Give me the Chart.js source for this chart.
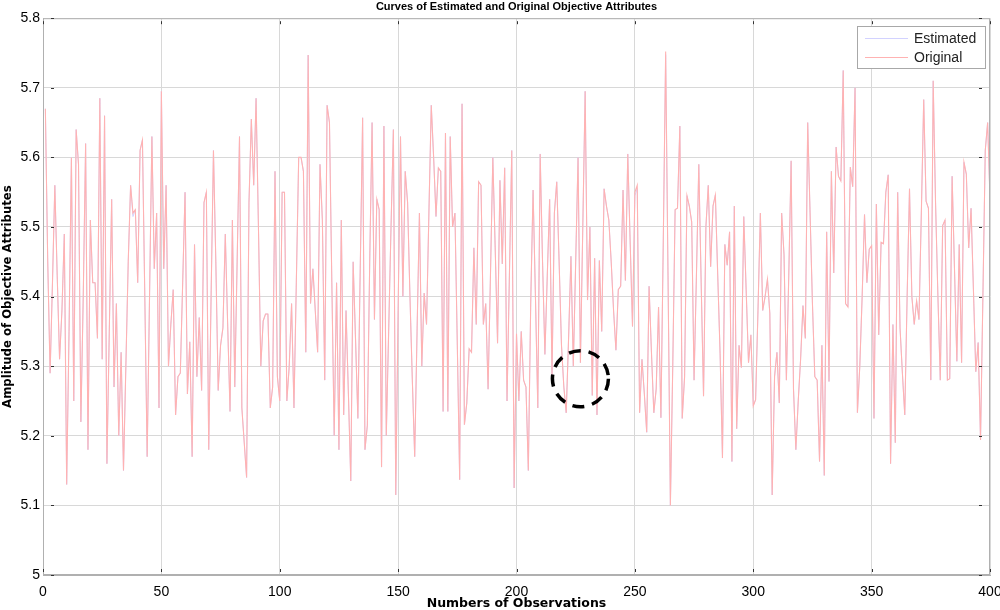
<!DOCTYPE html>
<html>
<head>
<meta charset="utf-8">
<script src="https://cdn.jsdelivr.net/npm/chart.js@4/dist/chart.umd.min.js"></script>
<style>
  html, body { margin: 0; padding: 0; background: #fff; }
  #wrap { width: 1000px; height: 610px; }
</style>
</head>
<body>
<div id="wrap"><canvas id="chart" width="1000" height="610"></canvas></div>
<script>
// ── data (observation 1..400) ─────────────────────────────
const SERIES_LABELS = ["Estimated", "Original"];

const original = [
  5.67, 5.45, 5.29, 5.42, 5.56, 5.43, 5.31, 5.38, 5.49, 5.13,
  5.35, 5.60, 5.25, 5.64, 5.59, 5.22, 5.40, 5.62, 5.18, 5.51,
  5.42, 5.42, 5.34, 5.685, 5.31, 5.66, 5.16, 5.35, 5.54, 5.27,
  5.39, 5.20, 5.32, 5.15, 5.30, 5.45, 5.56, 5.52, 5.525, 5.42,
  5.61, 5.625, 5.40, 5.17, 5.40, 5.63, 5.44, 5.52, 5.24, 5.695,
  5.44, 5.56, 5.30, 5.36, 5.41, 5.23, 5.285, 5.29, 5.42, 5.55,
  5.26, 5.335, 5.17, 5.475, 5.285, 5.37, 5.265, 5.535, 5.55, 5.18,
  5.40, 5.61, 5.45, 5.265, 5.33, 5.355, 5.49, 5.36, 5.235, 5.51,
  5.27, 5.45, 5.63, 5.24, 5.19, 5.14, 5.535, 5.655, 5.56, 5.685,
  5.50, 5.30, 5.365, 5.375, 5.375, 5.24, 5.27, 5.58, 5.285, 5.25,
  5.55, 5.55, 5.25, 5.30, 5.39, 5.24, 5.42, 5.60, 5.60, 5.58,
  5.32, 5.747, 5.39, 5.44, 5.38, 5.32, 5.59, 5.51, 5.28, 5.675,
  5.65, 5.42, 5.20, 5.42, 5.18, 5.51, 5.23, 5.38, 5.26, 5.135,
  5.45, 5.34, 5.225, 5.44, 5.657, 5.18, 5.215, 5.45, 5.65, 5.367,
  5.54, 5.525, 5.155, 5.645, 5.20, 5.35, 5.50, 5.64, 5.115, 5.38,
  5.63, 5.40, 5.58, 5.535, 5.40, 5.28, 5.17, 5.35, 5.52, 5.30,
  5.405, 5.36, 5.52, 5.675, 5.60, 5.515, 5.585, 5.58, 5.235, 5.635,
  5.235, 5.63, 5.50, 5.52, 5.33, 5.137, 5.677, 5.216, 5.247, 5.325,
  5.32, 5.47, 5.36, 5.565, 5.56, 5.36, 5.39, 5.267, 5.43, 5.60,
  5.47, 5.333, 5.567, 5.447, 5.585, 5.25, 5.43, 5.61, 5.125, 5.347,
  5.25, 5.35, 5.28, 5.27, 5.15, 5.39, 5.553, 5.40, 5.24, 5.605,
  5.45, 5.317, 5.43, 5.54, 5.285, 5.52, 5.565, 5.45, 5.33, 5.27,
  5.233, 5.34, 5.458, 5.30, 5.45, 5.60, 5.305, 5.50, 5.695, 5.395,
  5.50, 5.258, 5.455, 5.23, 5.452, 5.35, 5.555, 5.53, 5.51, 5.45,
  5.38, 5.323, 5.41, 5.415, 5.553, 5.423, 5.605, 5.48, 5.357, 5.55,
  5.56, 5.233, 5.31, 5.26, 5.205, 5.415, 5.32, 5.233, 5.267, 5.385,
  5.226, 5.48, 5.752, 5.43, 5.10, 5.30, 5.525, 5.527, 5.645, 5.225,
  5.285, 5.545, 5.53, 5.507, 5.28, 5.43, 5.59, 5.42, 5.257, 5.50,
  5.56, 5.443, 5.53, 5.546, 5.43, 5.318, 5.168, 5.475, 5.445, 5.493,
  5.163, 5.53, 5.21, 5.33, 5.298, 5.515, 5.41, 5.305, 5.345, 5.243,
  5.252, 5.38, 5.52, 5.38, 5.40, 5.425, 5.376, 5.115, 5.285, 5.32,
  5.247, 5.52, 5.46, 5.28, 5.43, 5.595, 5.267, 5.18, 5.25, 5.31,
  5.387, 5.34, 5.65, 5.52, 5.39, 5.285, 5.28, 5.163, 5.33, 5.143,
  5.493, 5.278, 5.58, 5.434, 5.615, 5.573, 5.566, 5.725, 5.39, 5.385,
  5.586, 5.558, 5.70, 5.233, 5.30, 5.40, 5.518, 5.42, 5.468, 5.473,
  5.225, 5.533, 5.345, 5.478, 5.476, 5.55, 5.575, 5.16, 5.36, 5.19,
  5.55, 5.355, 5.29, 5.23, 5.40, 5.555, 5.40, 5.36, 5.394, 5.367,
  5.52, 5.683, 5.537, 5.527, 5.28, 5.71, 5.535, 5.40, 5.28, 5.502,
  5.51, 5.28, 5.282, 5.573, 5.44, 5.307, 5.475, 5.305, 5.593, 5.576,
  5.47, 5.527, 5.41, 5.292, 5.334, 5.194, 5.40, 5.61, 5.65, 5.54,
];

const estimated = [
  5.67, 5.45, 5.29, 5.42, 5.56, 5.43, 5.31, 5.38, 5.49, 5.13,
  5.35, 5.60, 5.25, 5.64, 5.59, 5.22, 5.40, 5.62, 5.18, 5.51,
  5.42, 5.42, 5.34, 5.685, 5.31, 5.66, 5.16, 5.35, 5.54, 5.27,
  5.39, 5.20, 5.32, 5.15, 5.30, 5.45, 5.56, 5.515, 5.525, 5.42,
  5.61, 5.625, 5.40, 5.17, 5.40, 5.63, 5.44, 5.52, 5.24, 5.695,
  5.44, 5.56, 5.30, 5.36, 5.41, 5.23, 5.285, 5.29, 5.42, 5.55,
  5.26, 5.335, 5.17, 5.475, 5.285, 5.37, 5.265, 5.535, 5.55, 5.18,
  5.40, 5.61, 5.45, 5.265, 5.33, 5.355, 5.49, 5.36, 5.235, 5.51,
  5.27, 5.45, 5.63, 5.24, 5.19, 5.14, 5.535, 5.655, 5.56, 5.685,
  5.50, 5.30, 5.365, 5.375, 5.375, 5.24, 5.27, 5.58, 5.285, 5.25,
  5.55, 5.55, 5.25, 5.30, 5.39, 5.24, 5.42, 5.60, 5.60, 5.58,
  5.32, 5.747, 5.39, 5.44, 5.38, 5.32, 5.59, 5.51, 5.28, 5.675,
  5.65, 5.42, 5.20, 5.42, 5.18, 5.51, 5.23, 5.38, 5.26, 5.135,
  5.45, 5.34, 5.225, 5.44, 5.657, 5.18, 5.215, 5.45, 5.65, 5.367,
  5.54, 5.525, 5.155, 5.645, 5.20, 5.35, 5.50, 5.64, 5.115, 5.38,
  5.63, 5.40, 5.58, 5.535, 5.40, 5.28, 5.17, 5.35, 5.52, 5.30,
  5.405, 5.36, 5.52, 5.675, 5.60, 5.515, 5.585, 5.58, 5.235, 5.635,
  5.235, 5.63, 5.50, 5.52, 5.33, 5.137, 5.677, 5.216, 5.247, 5.325,
  5.32, 5.47, 5.36, 5.565, 5.56, 5.36, 5.39, 5.267, 5.43, 5.60,
  5.47, 5.333, 5.567, 5.447, 5.585, 5.25, 5.43, 5.61, 5.125, 5.347,
  5.25, 5.35, 5.28, 5.27, 5.15, 5.39, 5.553, 5.40, 5.24, 5.605,
  5.45, 5.317, 5.43, 5.54, 5.285, 5.52, 5.565, 5.45, 5.33, 5.27,
  5.233, 5.34, 5.458, 5.30, 5.45, 5.60, 5.305, 5.50, 5.695, 5.395,
  5.50, 5.258, 5.455, 5.23, 5.452, 5.35, 5.555, 5.53, 5.51, 5.45,
  5.38, 5.323, 5.41, 5.415, 5.553, 5.423, 5.605, 5.48, 5.357, 5.545,
  5.555, 5.233, 5.31, 5.26, 5.205, 5.415, 5.32, 5.233, 5.267, 5.385,
  5.226, 5.48, 5.748, 5.43, 5.10, 5.30, 5.525, 5.527, 5.645, 5.225,
  5.285, 5.545, 5.53, 5.507, 5.28, 5.43, 5.59, 5.42, 5.257, 5.50,
  5.56, 5.443, 5.53, 5.546, 5.43, 5.318, 5.168, 5.475, 5.445, 5.493,
  5.163, 5.53, 5.21, 5.33, 5.298, 5.515, 5.41, 5.305, 5.345, 5.243,
  5.252, 5.38, 5.52, 5.38, 5.40, 5.425, 5.376, 5.115, 5.285, 5.32,
  5.247, 5.52, 5.46, 5.28, 5.43, 5.595, 5.267, 5.18, 5.25, 5.31,
  5.387, 5.34, 5.65, 5.52, 5.39, 5.285, 5.28, 5.163, 5.33, 5.143,
  5.493, 5.278, 5.58, 5.434, 5.615, 5.573, 5.566, 5.725, 5.39, 5.385,
  5.586, 5.558, 5.70, 5.233, 5.30, 5.40, 5.518, 5.42, 5.468, 5.473,
  5.225, 5.533, 5.345, 5.478, 5.476, 5.55, 5.575, 5.16, 5.36, 5.19,
  5.55, 5.355, 5.29, 5.23, 5.40, 5.555, 5.40, 5.36, 5.394, 5.367,
  5.52, 5.683, 5.537, 5.527, 5.28, 5.71, 5.535, 5.40, 5.28, 5.502,
  5.51, 5.28, 5.282, 5.573, 5.44, 5.307, 5.475, 5.305, 5.593, 5.576,
  5.47, 5.527, 5.41, 5.292, 5.334, 5.194, 5.40, 5.61, 5.65, 5.54,
];

const X_TICKS = [0, 50, 100, 150, 200, 250, 300, 350, 400];
const Y_TICKS = [5, 5.1, 5.2, 5.3, 5.4, 5.5, 5.6, 5.7, 5.8];

// dashed circle marker (data coords)
const MARK_X = 227;
const MARK_Y = 5.282;

const COLOR_EST  = "#d2d2ff";
const COLOR_ORIG = "#ffb2b2";
const GRID_COLOR = "#d8d8d8";
const FONT = "'Liberation Sans', Arial, sans-serif";
const LABEL_FONT = "'DejaVu Sans', sans-serif";

const toPoints = arr => arr.map((v, i) => ({ x: i + 1, y: v }));

// ── extras: box, inner ticks, marker, legend ──────────────
const extrasPlugin = {
  id: "extras",
  afterDatasetsDraw(chart) {
    const { ctx, chartArea: a, scales: { x, y } } = chart;
    ctx.save();

    // axes box
    ctx.strokeStyle = "#b0b0b0";
    ctx.lineWidth = 1;
    ctx.strokeRect(a.left + 0.5, a.top + 0.5, a.right - a.left - 1, a.bottom - a.top - 1);

    // small inner tick marks
    ctx.strokeStyle = "#333";
    ctx.lineWidth = 1;
    Y_TICKS.forEach(v => {
      const py = Math.round(y.getPixelForValue(v)) + 0.5;
      ctx.beginPath();
      ctx.moveTo(a.left + 8, py); ctx.lineTo(a.left + 11, py);
      ctx.moveTo(a.right - 11, py); ctx.lineTo(a.right - 8, py);
      ctx.stroke();
    });
    X_TICKS.forEach(v => {
      const px = Math.round(x.getPixelForValue(v)) + 0.5;
      ctx.beginPath();
      ctx.moveTo(px, a.top + 3); ctx.lineTo(px, a.top + 6);
      ctx.moveTo(px, a.bottom - 6); ctx.lineTo(px, a.bottom - 3);
      ctx.stroke();
    });

    // dashed circle
    ctx.strokeStyle = "#000";
    ctx.lineWidth = 3.5;
    ctx.setLineDash([12, 8]);
    ctx.beginPath();
    ctx.arc(x.getPixelForValue(MARK_X), y.getPixelForValue(MARK_Y), 28, 0, Math.PI * 2);
    ctx.stroke();
    ctx.setLineDash([]);

    // legend
    const lx = 857, ly = 26, lw = 128, lh = 42;
    ctx.fillStyle = "#fff";
    ctx.fillRect(lx, ly, lw, lh);
    ctx.strokeStyle = "#a8a8a8";
    ctx.lineWidth = 1;
    ctx.strokeRect(lx + 0.5, ly + 0.5, lw, lh);
    ctx.font = "14px " + FONT;
    ctx.textBaseline = "middle";
    [0, 1].forEach(i => {
      const ds = chart.data.datasets[i];
      const yy = ly + 12.5 + i * 19;
      ctx.strokeStyle = ds.borderColor;
      ctx.beginPath();
      ctx.moveTo(lx + 8, yy); ctx.lineTo(lx + 51, yy);
      ctx.stroke();
      ctx.fillStyle = "#222";
      ctx.fillText(ds.label, lx + 57, yy + 1);
    });

    ctx.restore();
  },
};

new Chart(document.getElementById("chart"), {
  type: "line",
  data: {
    datasets: [
      { label: SERIES_LABELS[0], data: toPoints(estimated), borderColor: COLOR_EST, borderWidth: 1, pointRadius: 0, tension: 0, order: 1 },
      { label: SERIES_LABELS[1], data: toPoints(original),  borderColor: COLOR_ORIG, borderWidth: 1.1, pointRadius: 0, tension: 0, order: 0 },
    ],
  },
  options: {
    responsive: false,
    animation: false,
    layout: { padding: { left: 0, right: 10, top: 0, bottom: 0 } },
    plugins: {
      legend: { display: false },
      tooltip: { enabled: false },
      title: {
        display: true,
        fullSize: false,
        text: "Curves of Estimated and Original Objective Attributes",
        color: "#000",
        font: { family: "'Liberation Sans Narrow', " + FONT, size: 11, weight: "bold" },
        padding: { top: 0, bottom: 5 },
      },
    },
    scales: {
      x: {
        type: "linear",
        min: 0, max: 400,
        afterBuildTicks: s => { s.ticks = X_TICKS.map(v => ({ value: v })); },
        afterFit: s => { s.height = 35; s.paddingLeft = 0; s.paddingRight = 0; },
        grid: { color: GRID_COLOR, drawTicks: false },
        border: { color: "#b0b0b0" },
        ticks: { color: "#000", padding: 9, font: { family: FONT, size: 14 } },
        title: {
          display: true, text: "Numbers of Observations", color: "#000",
          font: { family: LABEL_FONT, size: 12.5, weight: "bold", lineHeight: 1 },
          padding: { top: 0, bottom: 0 },
        },
      },
      y: {
        min: 5, max: 5.8,
        afterBuildTicks: s => { s.ticks = Y_TICKS.map(v => ({ value: v })); },
        afterFit: s => { s.width = 43; },
        grid: { color: GRID_COLOR, drawTicks: false },
        border: { color: "#b0b0b0" },
        ticks: { color: "#000", padding: 3, font: { family: FONT, size: 14 }, callback: v => String(+v.toFixed(1)) },
        title: {
          display: true, text: "Amplitude of Objective Attributes", color: "#000",
          font: { family: LABEL_FONT, size: 11.7, weight: "bold", lineHeight: 1 },
          padding: { top: 2, bottom: 0 },
        },
      },
    },
  },
  plugins: [extrasPlugin],
});
</script>
</body>
</html>
